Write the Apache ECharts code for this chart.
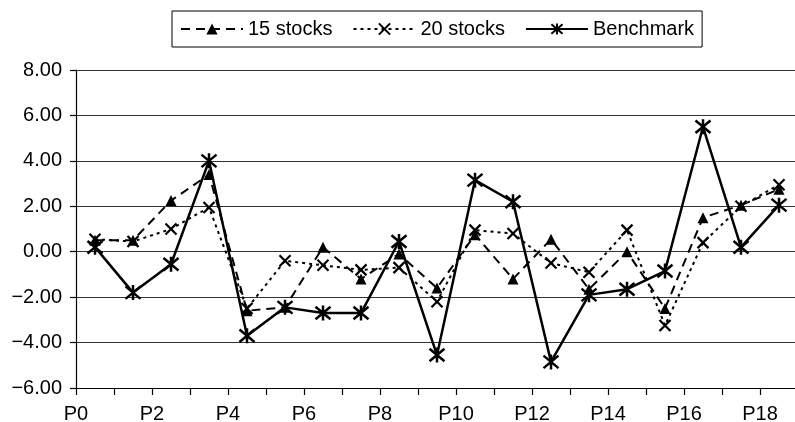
<!DOCTYPE html>
<html>
<head>
<meta charset="utf-8">
<script src="https://cdn.jsdelivr.net/npm/echarts@6/dist/echarts.min.js"></script>
<style>
  html, body { margin: 0; padding: 0; background: #fff; }
  #chart { width: 795px; height: 422px; }
</style>
</head>
<body>
<div id="chart"></div>
<script>
// Period labels on the x axis (one band per period)
const periods = ['P0','P1','P2','P3','P4','P5','P6','P7','P8','P9',
                 'P10','P11','P12','P13','P14','P15','P16','P17','P18'];

// Excess returns per period
const stocks15 = [0.5, 0.5, 2.25, 3.4, -2.6, -2.45, 0.2, -1.2, -0.1, -1.6,
                  0.75, -1.2, 0.55, -1.65, 0.0, -2.5, 1.5, 2.05, 2.75];
const stocks20 = [0.55, 0.45, 1.0, 1.95, -2.5, -0.4, -0.6, -0.8, -0.7, -2.2,
                  0.95, 0.8, -0.5, -0.9, 0.95, -3.25, 0.4, 2.0, 2.95];
const benchmark = [0.2, -1.8, -0.55, 4.0, -3.7, -2.45, -2.7, -2.7, 0.45, -4.55,
                   3.15, 2.2, -4.85, -1.9, -1.65, -0.85, 5.5, 0.2, 2.05];

// Value-axis ticks
const yTicks = { min: -6, max: 8, step: 2 };

const FONT = 'Liberation Sans, Arial, sans-serif';

// each value sits in the middle of its period band
const toPoints = arr => arr.map((v, i) => [i + 0.5, v]);

const crossPath = 'path://M0 0L10 10M10 0L0 10';
const asteriskPath = 'path://M0 0L10 10M10 0L0 10M5 -1L5 11';

const chart = echarts.init(document.getElementById('chart'), null, { renderer: 'canvas' });

chart.setOption({
  animation: false,
  backgroundColor: '#fff',
  textStyle: { fontFamily: FONT, color: '#000' },
  legend: {
    left: 172,
    top: 11,
    padding: [8, 8, 8, 8],
    borderColor: '#000',
    borderWidth: 1,
    itemWidth: 62,
    itemHeight: 14,
    itemGap: 20,
    textStyle: { fontFamily: FONT, fontSize: 20, color: '#000' },
    data: ['15 stocks', '20 stocks', 'Benchmark']
  },
  grid: {
    left: 76, top: 70, width: 722, height: 318,
    containLabel: false,
    outerBoundsMode: 'none'
  },
  xAxis: {
    type: 'value',
    min: 0,
    max: periods.length,
    interval: 1,
    axisLine: { show: true, onZero: false, lineStyle: { color: '#000', width: 1.2 } },
    axisTick: { show: true, length: 7, lineStyle: { color: '#000', width: 1.2 } },
    splitLine: { show: false },
    axisLabel: {
      margin: 16,
      fontFamily: FONT,
      fontSize: 20,
      color: '#000',
      showMaxLabel: false,
      formatter: v => (v % 2 === 0 && periods[v]) ? periods[v] : ''
    }
  },
  yAxis: {
    type: 'value',
    min: yTicks.min,
    max: yTicks.max,
    interval: yTicks.step,
    axisLine: { show: true, lineStyle: { color: '#000', width: 1.2 } },
    axisTick: { show: true, length: 6, lineStyle: { color: '#000', width: 1.2 } },
    splitLine: { show: true, lineStyle: { color: '#333', width: 1.2 } },
    axisLabel: {
      margin: 14,
      fontFamily: FONT,
      fontSize: 20,
      color: '#000',
      formatter: v => (v < 0 ? '\u2212' : '') + Math.abs(v).toFixed(2)
    }
  },
  series: [
    {
      name: '15 stocks',
      type: 'line',
      data: toPoints(stocks15),
      symbol: 'triangle',
      symbolSize: 11,
      lineStyle: { color: '#000', width: 2, type: [9, 6] },
      itemStyle: { color: '#000', borderWidth: 0 },
      z: 2
    },
    {
      name: '20 stocks',
      type: 'line',
      data: toPoints(stocks20),
      symbol: crossPath,
      symbolSize: 11,
      lineStyle: { color: '#000', width: 2, type: [3, 4] },
      itemStyle: { color: '#000', borderColor: '#000', borderWidth: 2.2 },
      z: 3
    },
    {
      name: 'Benchmark',
      type: 'line',
      data: toPoints(benchmark),
      symbol: asteriskPath,
      symbolSize: 15,
      lineStyle: { color: '#000', width: 2.5, type: 'solid' },
      itemStyle: { color: '#000', borderColor: '#000', borderWidth: 2.5 },
      z: 4
    }
  ]
});
</script>
</body>
</html>
